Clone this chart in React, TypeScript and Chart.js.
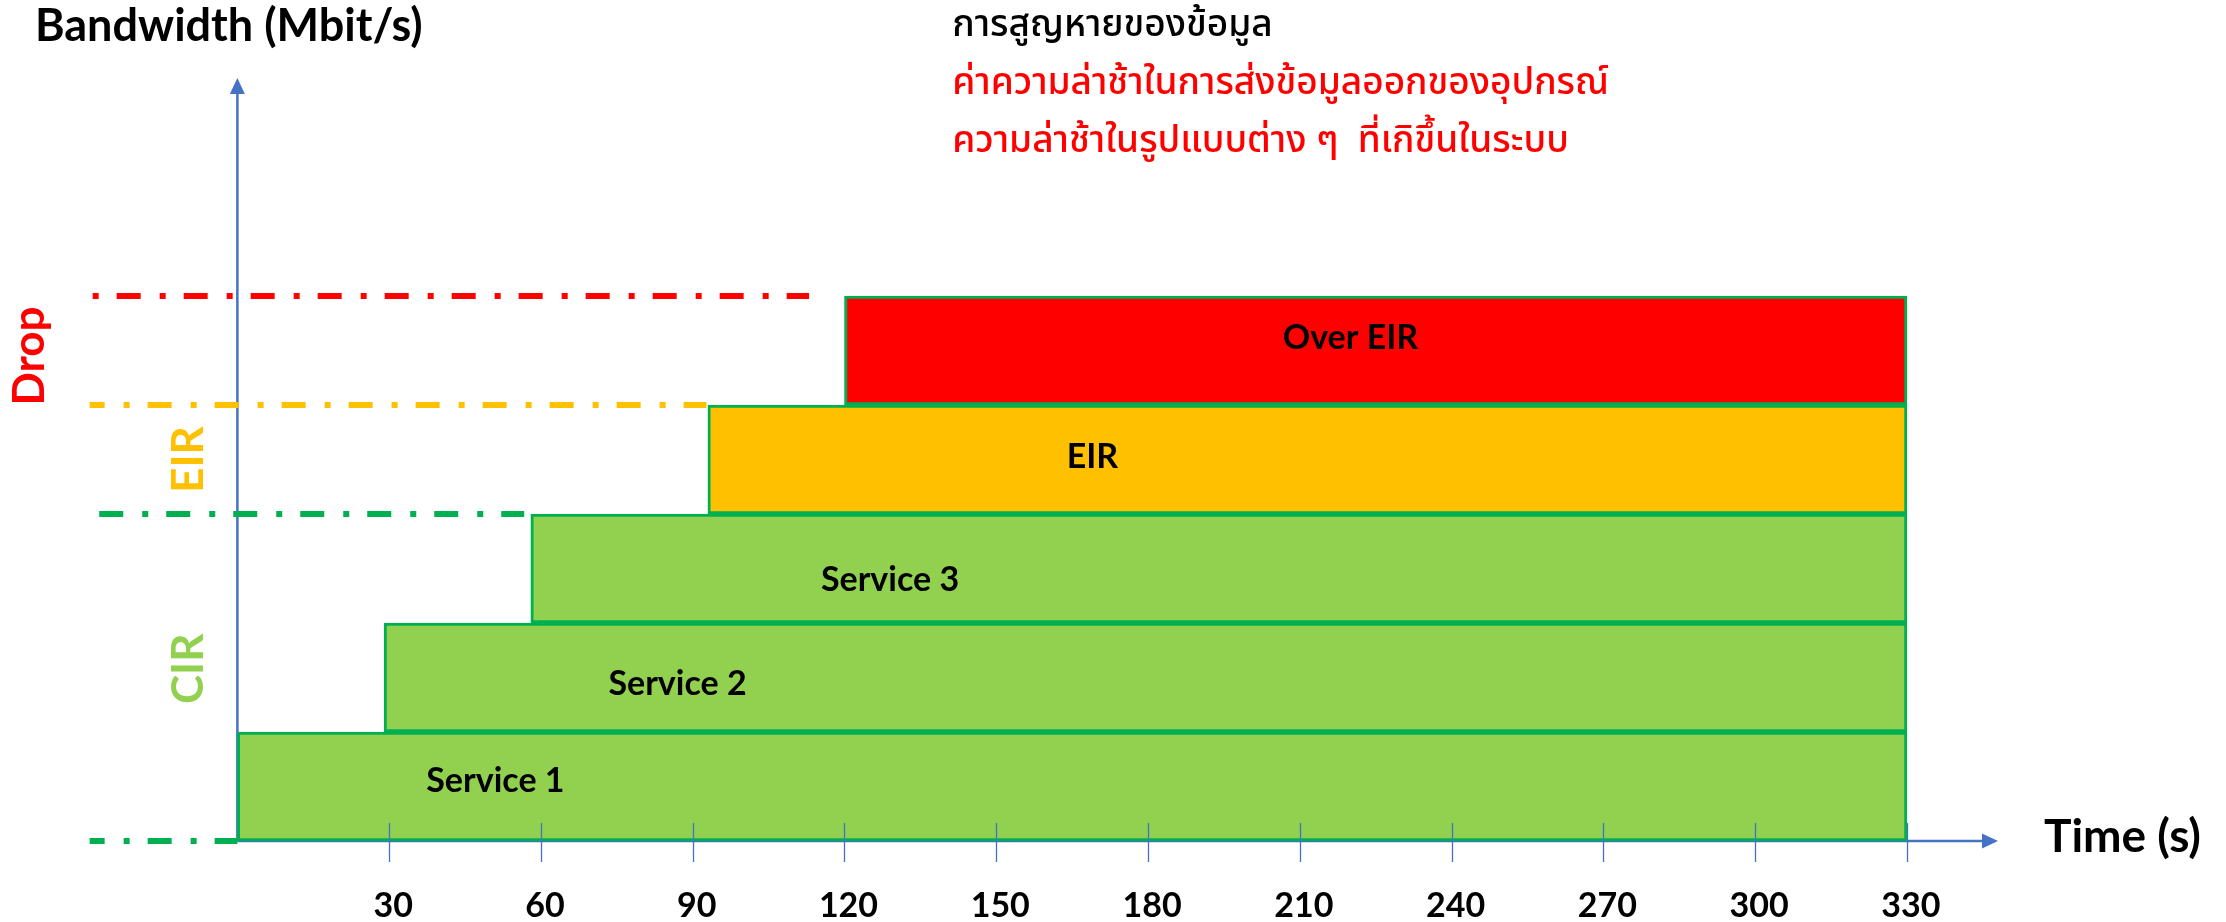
import React, { useEffect, useRef } from 'react';
import { Chart, registerables } from 'chart.js';

Chart.register(...registerables);

// ---- data ----
const categories = ['Service 1', 'Service 2', 'Service 3', 'EIR', 'Over EIR'];
const startTimes = [0, 29, 58, 93, 120];
const endTimes = [330, 330, 330, 330, 330];
const bandCenters = [0.5, 1.5, 2.5, 3.5, 4.5];
const fillColors = ['#92D050', '#92D050', '#92D050', '#FFC000', '#FF0000'];
const labelTimes = [51, 87, 129, 169, 220];
const labelLevels = [0.56, 1.45, 2.41, 3.53, 4.63];

const thresholdLevels = [5, 4, 3, 0];
const thresholdFrom = [-28.6, -29.2, -27.3, -29.2];
const thresholdTo = [113, 92.7, 56.7, 0];
const thresholdColors = ['#FF0000', '#FFC000', '#00B050', '#00B050'];
const thresholdPhase = [43, 9, 0, 9];

const tickValues = [30, 60, 90, 120, 150, 180, 210, 240, 270, 300, 330];
const tickLabels = ['30', '60', '90', '120', '150', '180', '210', '240', '270', '300', '330'];

const sideLabels = ['Drop', 'EIR', 'CIR'];
const sideLabelLevels = [4.45, 3.5, 1.58];
const sideLabelColors = ['#FF0000', '#FFC000', '#92D050'];
const sideLabelTimes = [-38.2, -6.7, -6.7]; // baseline position

const noteLines = [
  'การสูญหายของข้อมูล',
  'ค่าความล่าช้าในการส่งข้อมูลออกของอุปกรณ์',
  'ความล่าช้าในรูปแบบต่าง ๆ  ที่เกิขึ้นในระบบ',
];
const noteColors = ['#000000', '#FF0000', '#FF0000'];
const noteLevels = [7.385, 6.85, 6.32]; // baselines
const noteTime = 141.3;

const yTitle = 'Bandwidth (Mbit/s)';
const xTitle = 'Time (s)';

const X_MIN = -40;
const X_MAX = 348;
const Y_MIN = 0;
const Y_MAX = 7;

const AXIS_COLOR = '#4472C4';
const LATIN = 'Lato, "Open Sans", "DejaVu Sans", sans-serif';
const THAI = '"Noto Sans Thai", "Noto Sans Thai Looped", "Leelawadee UI", Tahoma, "Noto Sans", sans-serif';
const CAP = 0.72;

const decorPlugin = {
  id: 'decor',
  beforeDatasetsDraw(chart: any) {
    const { ctx, scales } = chart;
    const xs = scales.x;
    const ys = scales.y;
    const x0 = xs.getPixelForValue(0);
    const y0 = ys.getPixelForValue(0);
    const xEnd = xs.getPixelForValue(X_MAX);
    const yTop = ys.getPixelForValue(Y_MAX);
    ctx.save();
    ctx.strokeStyle = AXIS_COLOR;
    ctx.fillStyle = AXIS_COLOR;
    ctx.lineWidth = 2.5;
    ctx.beginPath();
    ctx.moveTo(x0, y0);
    ctx.lineTo(x0, yTop + 12);
    ctx.stroke();
    ctx.beginPath();
    ctx.moveTo(x0, yTop);
    ctx.lineTo(x0 - 7.5, yTop + 16);
    ctx.lineTo(x0 + 7.5, yTop + 16);
    ctx.closePath();
    ctx.fill();
    ctx.beginPath();
    ctx.moveTo(x0, y0);
    ctx.lineTo(xEnd - 12, y0);
    ctx.stroke();
    ctx.beginPath();
    ctx.moveTo(xEnd, y0);
    ctx.lineTo(xEnd - 16, y0 - 7.5);
    ctx.lineTo(xEnd - 16, y0 + 7.5);
    ctx.closePath();
    ctx.fill();
    ctx.restore();
  },
  afterDatasetsDraw(chart: any) {
    const { ctx, scales } = chart;
    const xs = scales.x;
    const ys = scales.y;
    const y0 = ys.getPixelForValue(0);
    const xEnd = xs.getPixelForValue(X_MAX);
    ctx.save();
    // tick marks
    ctx.strokeStyle = AXIS_COLOR;
    ctx.lineWidth = 1.3;
    tickValues.forEach((v) => {
      const px = Math.round(xs.getPixelForValue(v)) + 0.5;
      ctx.beginPath();
      ctx.moveTo(px, y0 - 18);
      ctx.lineTo(px, y0 + 21);
      ctx.stroke();
    });
    // tick labels
    ctx.fillStyle = '#000';
    ctx.textAlign = 'center';
    ctx.textBaseline = 'alphabetic';
    ctx.font = `bold 34px ${LATIN}`;
    tickValues.forEach((v, i) => {
      ctx.fillText(tickLabels[i], xs.getPixelForValue(v) + 4, y0 + 76);
    });
    // bar labels
    const barFont = 34;
    ctx.font = `bold ${barFont}px ${LATIN}`;
    categories.forEach((c, i) => {
      const px = xs.getPixelForValue(labelTimes[i]);
      const py = ys.getPixelForValue(labelLevels[i]) + (barFont * CAP) / 2;
      ctx.fillText(c, px, py);
    });
    // side rotated labels
    ctx.font = `bold 44px ${LATIN}`;
    sideLabels.forEach((t, i) => {
      const bx = xs.getPixelForValue(sideLabelTimes[i]);
      const cy = ys.getPixelForValue(sideLabelLevels[i]);
      ctx.save();
      ctx.translate(bx, cy);
      ctx.rotate(-Math.PI / 2);
      ctx.fillStyle = sideLabelColors[i];
      ctx.textAlign = 'center';
      ctx.fillText(t, 0, 0);
      ctx.restore();
    });
    // axis titles
    ctx.fillStyle = '#000';
    ctx.textAlign = 'left';
    ctx.font = `bold 45px ${LATIN}`;
    ctx.fillText(yTitle, 35, ys.getPixelForValue(Y_MAX) - 37);
    ctx.font = `bold 46px ${LATIN}`;
    ctx.fillText(xTitle, xEnd + 46, y0 + 11);
    // Thai notes
    ctx.font = `500 37px ${THAI}`;
    noteLines.forEach((t, i) => {
      ctx.fillStyle = noteColors[i];
      ctx.fillText(t, xs.getPixelForValue(noteTime), ys.getPixelForValue(noteLevels[i]));
    });
    ctx.restore();
  },
};

export default function App() {
  const ref = useRef<HTMLCanvasElement | null>(null);
  useEffect(() => {
    if (!ref.current) return;
    const datasets: any[] = [
      {
        type: 'bar',
        indexAxis: 'y',
        label: 'Bandwidth',
        data: categories.map((c, i) => ({ y: bandCenters[i], x: [startTimes[i], endTimes[i]] })),
        backgroundColor: fillColors,
        borderColor: '#00B050',
        borderWidth: 3,
        borderSkipped: false,
        barPercentage: 1,
        categoryPercentage: 1,
        clip: false,
        order: 0,
      },
      ...thresholdLevels.map((lv, i) => ({
        type: 'line',
        indexAxis: 'x',
        label: 'threshold ' + i,
        data: [
          { x: thresholdFrom[i], y: lv },
          { x: thresholdTo[i], y: lv },
        ],
        borderColor: thresholdColors[i],
        borderWidth: 6,
        borderDash: [24, 19, 6, 18],
        borderDashOffset: thresholdPhase[i],
        borderCapStyle: 'butt',
        pointRadius: 0,
        fill: false,
        tension: 0,
        clip: false,
        order: 1,
      })),
    ];
    const chart = new Chart(ref.current, {
      type: 'bar',
      data: { datasets },
      options: {
        responsive: false,
        maintainAspectRatio: false,
        devicePixelRatio: 1,
        animation: false,
        layout: { padding: { left: 35, right: 228, top: 78, bottom: 81 } },
        scales: {
          x: { type: 'linear', min: X_MIN, max: X_MAX, offset: false, display: false, grid: { display: false, offset: false } },
          y: { type: 'linear', min: Y_MIN, max: Y_MAX, offset: false, display: false, grid: { display: false, offset: false }, ticks: { stepSize: 1 } },
        },
        plugins: { legend: { display: false }, tooltip: { enabled: false }, title: { display: false } },
      },
      plugins: [decorPlugin],
    } as any);
    return () => chart.destroy();
  }, []);
  return (
    <div style={{ position: 'fixed', left: 0, top: 0, width: 2226, height: 922, background: '#fff' }}>
      <canvas ref={ref} width={2226} height={922} style={{ width: 2226, height: 922, display: 'block' }} />
    </div>
  );
}
